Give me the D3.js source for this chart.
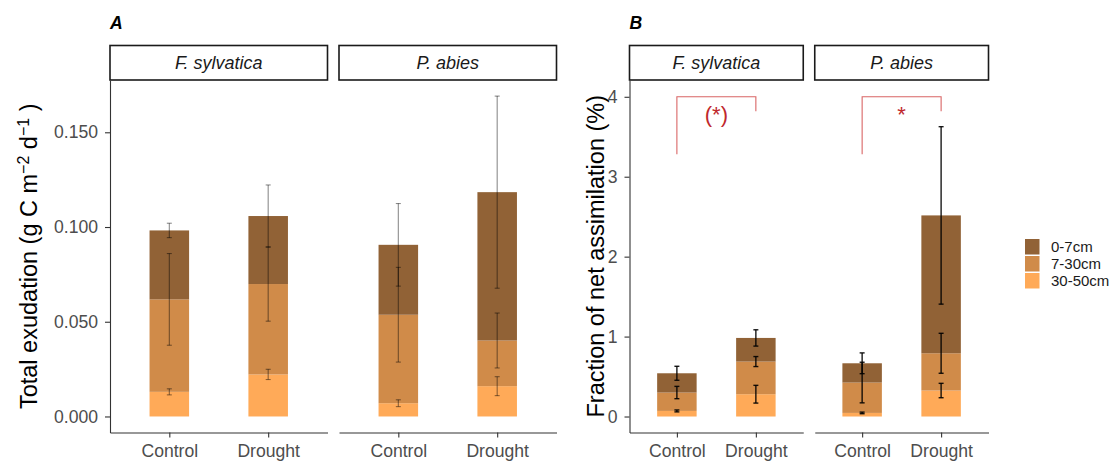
<!DOCTYPE html>
<html>
<head>
<meta charset="utf-8">
<script src="https://cdn.jsdelivr.net/npm/d3@7"></script>
<style>
  body { margin: 0; background: #fff; }
  svg { display: block; font-family: Arial, "Liberation Sans", Helvetica, sans-serif; }
</style>
</head>
<body>
<svg id="chart" width="1113" height="461"></svg>
<script>
const species = ["F. sylvatica", "P. abies"]
const treatments = ["Control", "Drought"]
const depths = ["0-7cm", "7-30cm", "30-50cm"]
const depthColors = ["#8B5A2B", "#CD853F", "#FFA54F"]

// groups: F.s Control, F.s Drought, P.a Control, P.a Drought
// panel A, total exudation (g C m-2 d-1)
const exud_0_7   = [0.0364, 0.0359, 0.0369, 0.0783]
const exud_7_30  = [0.0488, 0.0477, 0.0467, 0.0241]
const exud_30_50 = [0.0130, 0.0222, 0.0070, 0.0160]
const exudSe_0_7   = [0.0038, 0.0164, 0.0218, 0.0507]
const exudSe_7_30  = [0.0242, 0.0196, 0.0250, 0.0145]
const exudSe_30_50 = [0.0016, 0.0027, 0.0018, 0.0050]

// panel B, fraction of net assimilation (%)
const frac_0_7   = [0.241, 0.2955, 0.241, 1.725]
const frac_7_30  = [0.230, 0.4085, 0.380, 0.466]
const frac_30_50 = [0.070, 0.279, 0.045, 0.325]
const fracSe_0_7   = [0.0875, 0.102, 0.130, 1.110]
const fracSe_7_30  = [0.077, 0.0625, 0.254, 0.250]
const fracSe_30_50 = [0.012, 0.111, 0.010, 0.090]

const exudTicks = [0, 0.05, 0.10, 0.15]
const fracTicks = [0, 1, 2, 3, 4]

// significance brackets in panel B (per species)
const sigLabels = ["(*)", "*"]
const sigTop = [4.0, 4.0]
const sigLeftEnd = [3.28, 3.28]
const sigRightEnd = [3.82, 3.82]
const sigTextY = [3.68, 3.68]

const svg = d3.select('#chart')
const plotTop = 80, plotBottom = 432.5, gap = 11.5
const stackKeys = ["30-50cm", "7-30cm", "0-7cm"]

function makeRows(v07, v730, v3050, s07, s730, s3050) {
  const rows = []
  species.forEach((sp, si) => {
    treatments.forEach((t, ti) => {
      const i = si * 2 + ti
      rows.push({
        species: sp, treatment: t, ti: ti,
        "0-7cm": v07[i], "7-30cm": v730[i], "30-50cm": v3050[i],
        se: { "0-7cm": s07[i], "7-30cm": s730[i], "30-50cm": s3050[i] }
      })
    })
  })
  return rows
}

function styleAxis(a) {
  a.attr('font-family', null).attr('font-size', 17.6)
  a.select('.domain').attr('stroke', '#333').attr('stroke-width', 1.1)
  a.selectAll('.tick line').attr('stroke', '#333').attr('stroke-width', 1.1)
  a.selectAll('.tick text').attr('fill', '#4d4d4d')
}

function drawPanel(p) {
  const g = svg.append('g')
  const fw = (p.x1 - p.x0 - gap) / 2
  const y = d3.scaleLinear().domain(p.yDomain).range([plotBottom, plotTop])
  const color = d3.scaleOrdinal().domain(depths).range(depthColors)

  species.forEach((sp, si) => {
    const fx0 = p.x0 + si * (fw + gap)
    const x = d3.scaleLinear().domain([0.4, 2.6]).range([fx0, fx0 + fw])
    const bw = x(1 + p.barW) - x(1)

    // strip
    g.append('rect')
      .attr('x', fx0).attr('y', 45.5).attr('width', fw).attr('height', 34.5)
      .attr('fill', '#fff').attr('stroke', '#1a1a1a').attr('stroke-width', 1.6)
    g.append('text')
      .attr('x', fx0 + fw / 2).attr('y', 69)
      .attr('text-anchor', 'middle').attr('font-style', 'italic')
      .attr('font-size', 18).attr('fill', '#1a1a1a')
      .text(sp)

    const rows = p.rows.filter(r => r.species === sp)
    const stacked = d3.stack().keys(stackKeys)(rows)

    stacked.forEach(layer => {
      g.selectAll(null).data(layer).enter().append('rect')
        .attr('x', d => x(d.data.ti + 1) - bw / 2)
        .attr('width', bw)
        .attr('y', d => y(d[1]))
        .attr('height', d => y(d[0]) - y(d[1]))
        .attr('fill', color(layer.key))
        .attr('fill-opacity', 0.95)
    })

    stacked.forEach(layer => {
      layer.forEach(d => {
        const cx = x(d.data.ti + 1)
        const se = d.data.se[layer.key]
        const y1 = y(d[1] + se), y2 = y(d[1] - se)
        const e = g.append('g')
          .attr('stroke', '#000').attr('stroke-opacity', p.errOpacity)
          .attr('stroke-width', p.errWidth)
        e.append('line').attr('x1', cx).attr('x2', cx).attr('y1', y1).attr('y2', y2)
        e.append('line').attr('x1', cx - 2.5).attr('x2', cx + 2.5).attr('y1', y1).attr('y2', y1)
        e.append('line').attr('x1', cx - 2.5).attr('x2', cx + 2.5).attr('y1', y2).attr('y2', y2)
      })
    })

    // x axis for each facet
    const xa = g.append('g')
      .attr('transform', `translate(0,${plotBottom})`)
      .call(d3.axisBottom(x).tickValues([1, 2]).tickFormat(d => treatments[d - 1])
        .tickSize(5).tickSizeOuter(0).tickPadding(7))
    styleAxis(xa)

    if (p.sig) {
      g.append('path')
        .attr('d', `M${x(1)},${y(sigLeftEnd[si])}V${y(sigTop[si])}H${x(2)}V${y(sigRightEnd[si])}`)
        .attr('fill', 'none').attr('stroke', '#d24a4a').attr('stroke-opacity', 0.85)
        .attr('stroke-width', 1.1)
      g.append('text')
        .attr('x', (x(1) + x(2)) / 2).attr('y', y(sigTextY[si]))
        .attr('text-anchor', 'middle').attr('font-size', 22).attr('fill', '#c0282d')
        .text(sigLabels[si])
    }
  })

  const ya = g.append('g')
    .attr('transform', `translate(${p.x0},0)`)
    .call(d3.axisLeft(y).tickValues(p.ticks).tickFormat(p.fmt)
      .tickSize(5).tickSizeOuter(0).tickPadding(7))
  styleAxis(ya)

  const title = g.append('text')
    .attr('transform', `translate(${p.titleX},${(plotTop + plotBottom) / 2}) rotate(-90)`)
    .attr('text-anchor', 'middle').attr('font-size', 23.5).attr('fill', '#000')
  p.title(title)

  g.append('text')
    .attr('x', p.x0).attr('y', 29)
    .attr('font-size', 17.6).attr('font-weight', 'bold').attr('font-style', 'italic')
    .text(p.letter)
}

drawPanel({
  x0: 110, x1: 556.5,
  yDomain: [-0.00846, 0.1776],
  ticks: exudTicks, fmt: d3.format('.3f'),
  rows: makeRows(exud_0_7, exud_7_30, exud_30_50, exudSe_0_7, exudSe_7_30, exudSe_30_50),
  barW: 0.4, errOpacity: 0.45, errWidth: 1.1, letter: 'A', titleX: 37, sig: false,
  title: t => {
    t.append('tspan').text('Total exudation (g C m')
    t.append('tspan').attr('baseline-shift', 'super').attr('font-size', 16).text('\u22122')
    t.append('tspan').text('  d')
    t.append('tspan').attr('baseline-shift', 'super').attr('font-size', 16).text('\u22121')
    t.append('tspan').text('  )')
  }
})

drawPanel({
  x0: 629.5, x1: 988.5,
  yDomain: [-0.2, 4.21],
  ticks: fracTicks, fmt: d3.format('d'),
  rows: makeRows(frac_0_7, frac_7_30, frac_30_50, fracSe_0_7, fracSe_7_30, fracSe_30_50),
  barW: 0.5, errOpacity: 0.9, errWidth: 1.4, letter: 'B', titleX: 604, sig: true,
  title: t => t.text('Fraction of net assimilation (%)')
})

// legend
const leg = svg.append('g').attr('transform', 'translate(1025,239)')
depths.forEach((d, i) => {
  leg.append('rect').attr('x', 0).attr('y', i * 17).attr('width', 14.5).attr('height', 15.5)
    .attr('fill', depthColors[i]).attr('fill-opacity', 0.95)
  leg.append('text').attr('x', 26).attr('y', i * 17 + 7.75).attr('dy', '0.35em')
    .attr('font-size', 15).attr('fill', '#1a1a1a').text(d)
})
</script>
</body>
</html>
